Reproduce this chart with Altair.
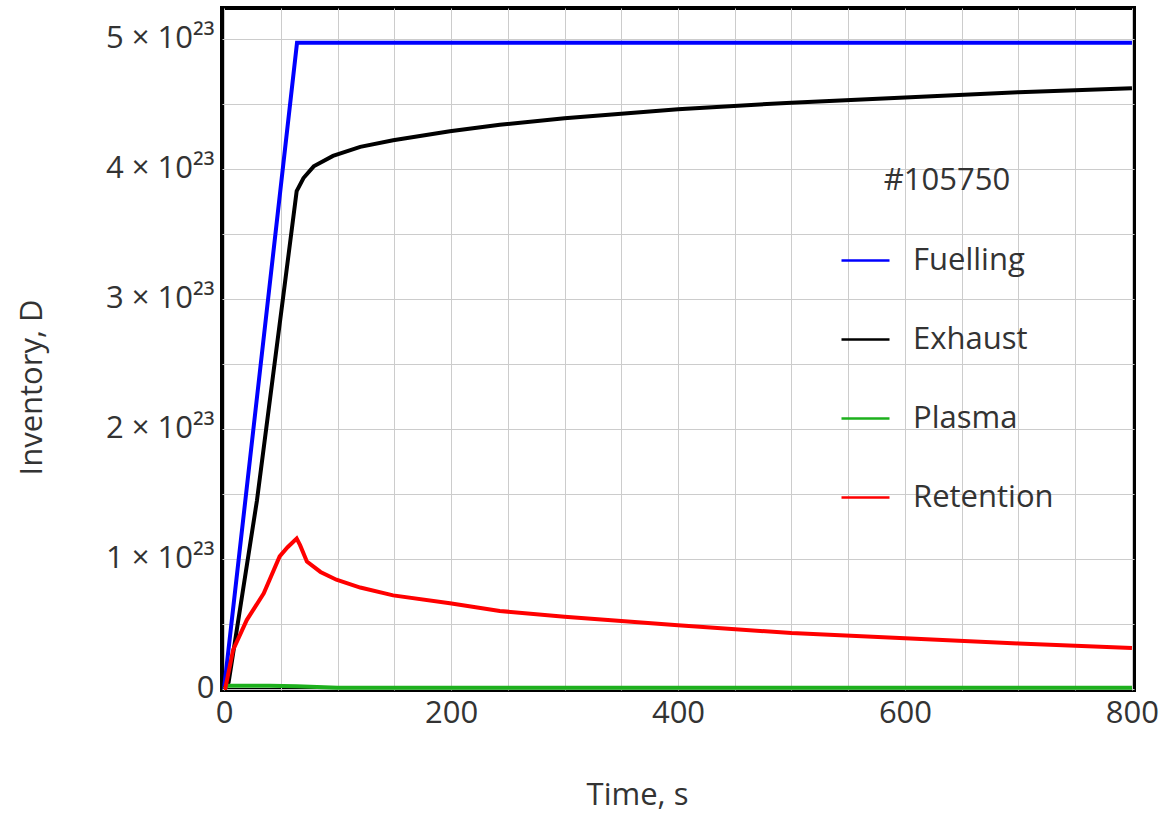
import altair as alt
import pandas as pd

# Values in units of 1e23 D, time in seconds
fuel_t = [0, 64.3, 800]
fuel_v = [0, 4.97, 4.97]

exh_t = [0, 4, 29, 52, 64, 70, 79, 96, 120, 149, 199, 243, 300, 400, 500, 600, 700, 800]
exh_v = [0, 0.05, 1.45, 3.01, 3.83, 3.93, 4.02, 4.10, 4.17, 4.22, 4.29, 4.34, 4.39, 4.46, 4.51, 4.55, 4.59, 4.62]

pla_t = [0, 3, 40, 64, 100, 800]
pla_v = [0, 0.025, 0.025, 0.02, 0.01, 0.01]

ret_t = [0, 1, 8, 20, 35, 49, 56, 64, 67, 73, 85, 99, 120, 149, 199, 243, 300, 400, 500, 600, 700, 800]
ret_v = [0, 0.0, 0.30, 0.53, 0.735, 1.02, 1.09, 1.157, 1.106, 0.98, 0.90, 0.84, 0.78, 0.72, 0.66, 0.60, 0.555, 0.49, 0.43, 0.39, 0.35, 0.315]

series = ["Fuelling", "Exhaust", "Plasma", "Retention"]
colors = ["#0000FF", "#000000", "#1DB01D", "#FF0000"]

x_ticks = list(range(0, 801, 50))
y_ticks = [i * 0.5 for i in range(0, 11)]

rows = []
for name, ts, vs in [("Fuelling", fuel_t, fuel_v), ("Exhaust", exh_t, exh_v),
                     ("Plasma", pla_t, pla_v), ("Retention", ret_t, ret_v)]:
    for i, (t, v) in enumerate(zip(ts, vs)):
        rows.append({"series": name, "t": t, "v": v, "order": i})
df = pd.DataFrame(rows)

FONT = "Open Sans"

chart = alt.Chart(df).mark_line(strokeWidth=4, clip=True).encode(
    x=alt.X("t:Q",
            scale=alt.Scale(domain=[-1.8, 801.8], nice=False, zero=False),
            axis=alt.Axis(values=x_ticks, title="Time, s",
                          labelExpr="datum.value % 200 == 0 ? format(datum.value, 'd') : ''",
                          labelOverlap=False, labelFlush=False, labelPadding=8,
                          titleX=415, titleY=105, titleAlign="center", titleBaseline="middle")),
    y=alt.Y("v:Q",
            scale=alt.Scale(domain=[-0.008, 5.238], nice=False, zero=False),
            axis=alt.Axis(values=y_ticks, title="Inventory, D",
                          labelExpr="datum.value % 1 == 0 ? (datum.value == 0 ? '0' : format(datum.value, 'd') + ' × 10²³') : ''",
                          labelOverlap=False, labelFlush=False, labelPadding=8,
                          titleX=-190, titleY=379, titleAngle=270, titleAlign="center",
                          titleBaseline="middle")),
    color=alt.Color("series:N",
                    scale=alt.Scale(domain=series, range=colors),
                    sort=series,
                    legend=alt.Legend(title="#105750", orient="none", legendX=618, legendY=158,
                                      symbolType="stroke", symbolSize=2304, symbolStrokeWidth=2.5,
                                      labelOffset=22, rowPadding=38, titlePadding=38,
                                      titleAnchor="middle", padding=0)),
    order="order:Q",
).properties(
    width=912, height=682,
    autosize=alt.AutoSizeParams(type="none"),
    padding={"left": 222, "top": 8, "right": 31, "bottom": 125},
).configure_view(
    stroke="#000000", strokeWidth=4
).configure_axis(
    domain=False, ticks=False, grid=True, gridColor="#cccccc", gridWidth=1,
    labelFont=FONT, labelFontSize=31, labelColor="#333333",
    titleFont=FONT, titleFontSize=31, titleColor="#333333", titleFontWeight="normal",
).configure_legend(
    labelFont=FONT, labelFontSize=31, labelColor="#333333",
    titleFont=FONT, titleFontSize=31, titleColor="#333333", titleFontWeight="normal",
    labelLimit=400,
)

chart.save("out.html", embed_options={"renderer": "svg", "actions": False})
